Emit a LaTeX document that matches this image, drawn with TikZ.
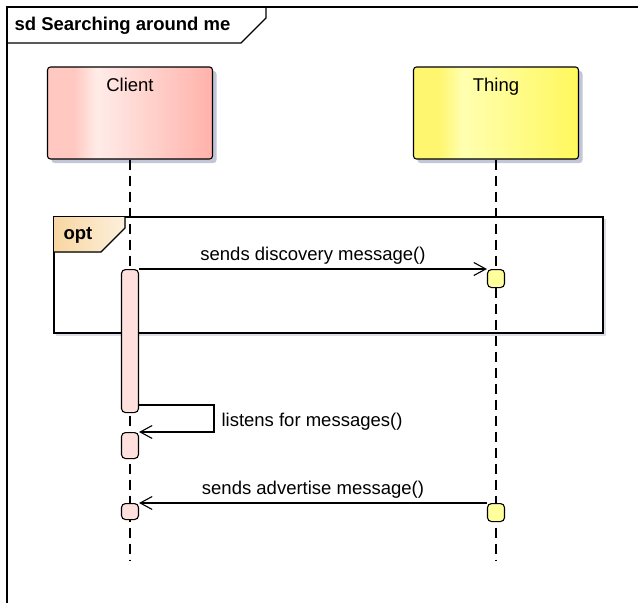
\documentclass[tikz,border=0pt]{standalone}
\usepackage{fontspec}
\setmainfont{Liberation Sans}
\usetikzlibrary{arrows.meta,shadows}
\definecolor{actpink}{HTML}{FFE0DC}
\definecolor{actyellow}{HTML}{FFFF9C}
\definecolor{pinkL}{HTML}{FFC8C0}
\definecolor{pinkM}{HTML}{FFECE8}
\definecolor{pinkR}{HTML}{FFB2AA}
\definecolor{yelL}{HTML}{FFF670}
\definecolor{yelM}{HTML}{FFFFB0}
\definecolor{yelR}{HTML}{FFF85C}
\definecolor{tabL}{HTML}{F8D6A2}
\definecolor{tabR}{HTML}{FDF0DC}
\definecolor{shadowc}{HTML}{C2C6D6}
\pgfdeclarehorizontalshading{clientshade}{100bp}{color(0bp)=(pinkL); color(25bp)=(pinkL); color(33bp)=(pinkL); color(40bp)=(pinkM); color(75bp)=(pinkR); color(100bp)=(pinkR)}
\pgfdeclarehorizontalshading{thingshade}{100bp}{color(0bp)=(yelL); color(25bp)=(yelL); color(33bp)=(yelL); color(40bp)=(yelM); color(75bp)=(yelR); color(100bp)=(yelR)}
\begin{document}
\begin{tikzpicture}
  [x=1pt,y=-1pt,line width=1.1pt,font=\fontsize{18.5}{22}\selectfont,
   every node/.style={inner sep=0pt},
   head/.style={draw,rounded corners=3pt,minimum width=165pt,minimum height=92pt,
     drop shadow={shadow xshift=4pt,shadow yshift=-4pt,fill=shadowc,opacity=1}},
   act/.style={draw,rounded corners=4pt,minimum width=17pt,anchor=north},
   lifeline/.style={dash pattern=on 10pt off 6pt},
   msg/.style={-{Straight Barb[length=12pt,width=13pt]}},
   msglabel/.style={anchor=base,yshift=9pt},
   bold/.style={anchor=base west,font=\fontsize{18.5}{22}\selectfont\bfseries}]
  \useasboundingbox (0,0) rectangle (638,603);

  % frame
  \draw (638,7) -- (7,7) -- (7,603);
  \draw (7,43) -- (241,43) -- (266,18) -- (266,7);
  \node[bold] (title) at (14,30) {sd Searching around me};

  % lifelines
  \node[head,shading=clientshade] (client) at (130,113) {};
  \node[head,shading=thingshade] (thing) at (496,113) {};
  \node[anchor=base] (clientname) at (130,91) {Client};
  \node[anchor=base] (thingname) at (496,91) {Thing};
  \coordinate (cend) at (130,560);
  \coordinate (tend) at (496,560);
  \draw[lifeline] (client) -- (cend);
  \draw[lifeline] (thing) -- (tend);

  % opt fragment
  \draw[shadowc!60,line width=2pt] (56,335) -- (605,335) -- (605,219);
  \draw (54,217) rectangle (603,333);
  \fill[left color=tabL,right color=tabR] (54,217) -- (125,217) -- (125,228) -- (101,252) -- (54,252) -- cycle;
  \draw (54,252) -- (101,252) -- (125,228) -- (125,217);
  \node[bold] (opt) at (63,239) {opt};

  % activations
  \node[act,fill=actpink,minimum height=143pt] (ca1) at (130,269) {};
  \node[act,fill=actpink,minimum height=26pt] (ca2) at (130,432) {};
  \node[act,fill=actpink,minimum height=16pt] (ca3) at (130,503) {};
  \node[act,fill=actyellow,minimum height=18pt] (ta1) at (496,269) {};
  \node[act,fill=actyellow,minimum height=18pt] (ta2) at (496,503) {};

  % messages
  \draw[msg] (ca1.north east) -- node[msglabel] (m1) {sends discovery message()} (ta1.north west);
  \coordinate (self1) at (214,405);
  \coordinate (self2) at (214,432);
  \draw[msg] (ca1.east |- self1) -- (self1) -- (self2) -- (ca2.north east);
  \node[anchor=base west] (m2) at (221,426) {listens for messages()};
  \draw[msg] (ta2.north west) -- node[msglabel] (m3) {sends advertise message()} (ca3.north east);
\end{tikzpicture}
\end{document}
